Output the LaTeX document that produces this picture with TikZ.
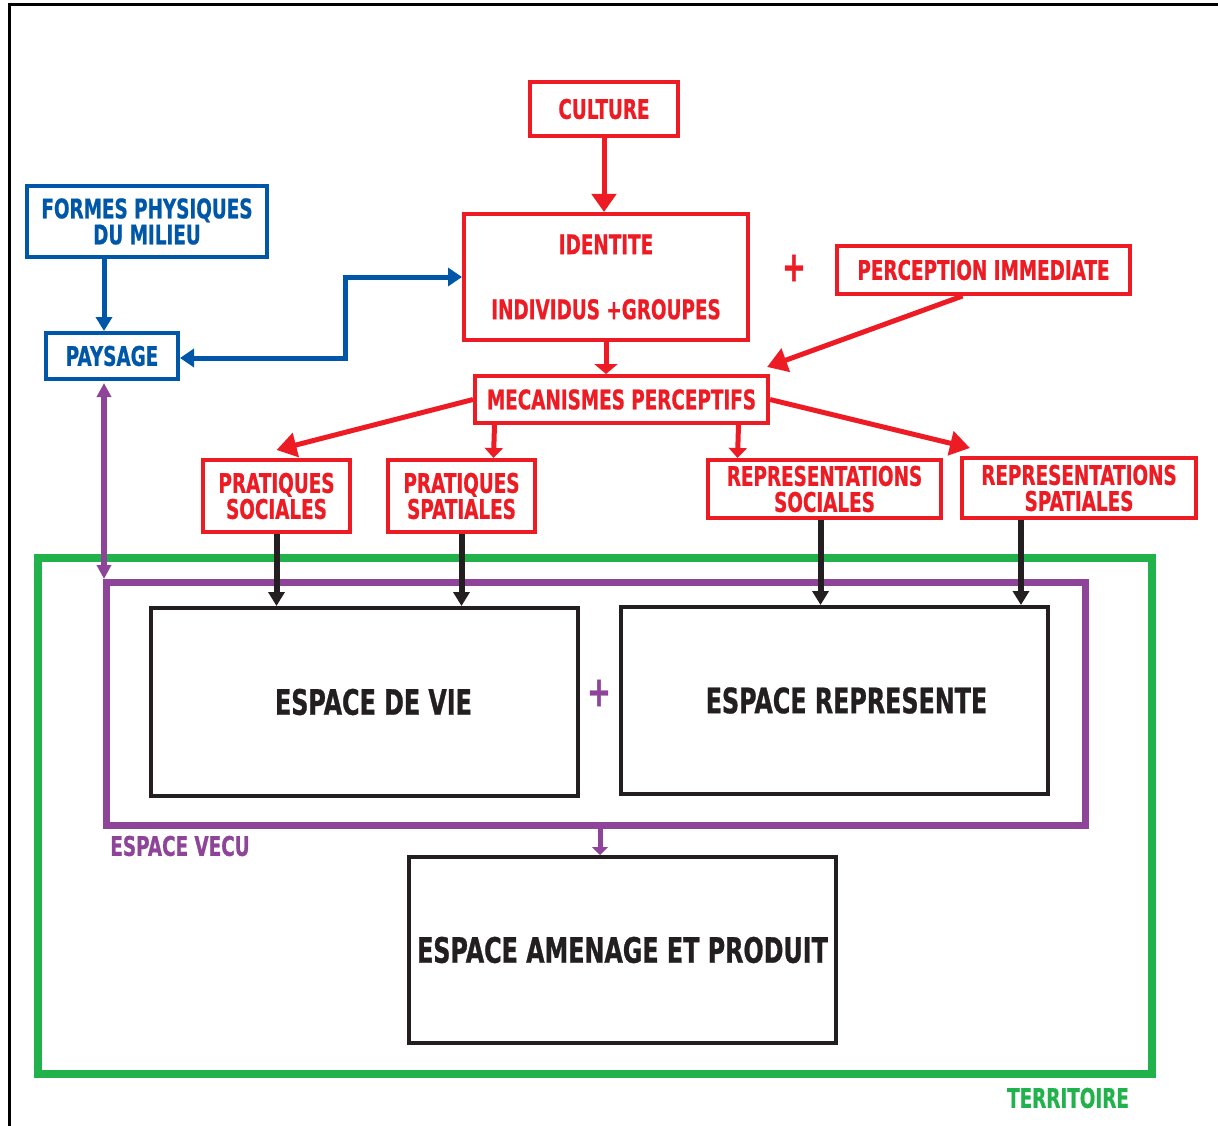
\documentclass[tikz,border=0pt]{standalone}
\usepackage{fontspec}
\usepackage{xcolor}
\usetikzlibrary{arrows.meta}
\newfontfamily\schemafont{DejaVu Sans Bold}[FakeStretch=0.68, FakeBold=0.8]

\definecolor{rouge}{RGB}{237,28,36}
\definecolor{bleu}{RGB}{0,87,168}
\definecolor{violet}{RGB}{142,68,152}
\definecolor{vert}{RGB}{34,178,76}
\definecolor{noir}{RGB}{35,31,32}

\tikzset{
  boite/.style={draw, rectangle, inner sep=0pt, align=center},
  redbox/.style={boite, rouge, line width=4pt, text=rouge, font=\schemafont\fontsize{27}{26}\selectfont},
  bluebox/.style={boite, bleu, line width=4pt, text=bleu, font=\schemafont\fontsize{27}{26}\selectfont},
  bigbox/.style={boite, noir, line width=4pt, text=noir, minimum width=427, font=\schemafont\fontsize{35}{35}\selectfont},
  redarrow/.style={rouge, line width=5pt, -{Triangle[width=24pt,length=18pt]}},
  blackarrow/.style={noir, line width=6pt, -{Triangle[width=16pt,length=14pt]}},
  bluearrow/.style={bleu, line width=5pt},
  tag/.style={font=\schemafont\fontsize{27}{27}\selectfont},
  plus/.style={font=\schemafont\fontsize{42}{42}\selectfont}
}

\begin{document}
\begin{tikzpicture}[x=1pt, y=-1pt]
\useasboundingbox (0,0) rectangle (1218,1126);
\draw[line width=3pt, black] (1218,5) -- (9,5) -- (9,1126);

% territoire et espace vecu
\node[draw, vert, line width=8pt, minimum width=1114, minimum height=516] (territoire) at (595,816) {};
\node[draw, violet, line width=7pt, minimum width=979, minimum height=243] (vecu) at (596,704) {};
\node[tag, text=vert] (territoiretxt) at (1068,1098) {TERRITOIRE};
\node[tag, text=violet] (vecutxt) at (180,846) {ESPACE VECU};

% cadres rouges
\node[redbox, minimum width=148, minimum height=54] (culture) at (604,109) {CULTURE};
\node[redbox, minimum width=284, minimum height=126] (identite) at (606,277) {IDENTITE\\[39pt]INDIVIDUS +GROUPES};
\node[redbox, minimum width=293, minimum height=48] (perception) at (983.5,270) {PERCEPTION IMMEDIATE};
\node[redbox, minimum width=293, minimum height=47] (meca) at (621.5,399.5) {MECANISMES PERCEPTIFS};
\node[redbox, minimum width=147, minimum height=72] (pratsoc) at (276.5,496) {PRATIQUES\\SOCIALES};
\node[redbox, minimum width=147, minimum height=72] (pratspa) at (461.5,496) {PRATIQUES\\SPATIALES};
\node[redbox, minimum width=233, minimum height=58] (repsoc) at (824.5,489) {REPRESENTATIONS\\SOCIALES};
\node[redbox, minimum width=234, minimum height=60] (repspa) at (1079,488) {REPRESENTATIONS\\SPATIALES};
\node[plus, text=rouge] (plusrouge) at (794,268) {+};

% cadres bleus
\node[bluebox, minimum width=240, minimum height=71] (formes) at (147,221.5) {FORMES PHYSIQUES\\DU MILIEU};
\node[bluebox, minimum width=132, minimum height=46] (paysage) at (112,356) {PAYSAGE};

% espaces
\node[bigbox, minimum height=188] (vie) at (364.5,702) {\hspace*{18pt}ESPACE DE VIE};
\node[bigbox, minimum height=187] (represente) at (834.5,700.5) {\hspace*{24pt}ESPACE REPRESENTE};
\node[bigbox, minimum height=186] (amenage) at (622.5,950) {ESPACE AMENAGE ET PRODUIT};
\node[plus, text=violet] (plusviolet) at (599,693) {+};

% fleches rouges
\draw[redarrow] (culture.south) -- (culture.south |- identite.north);
\draw[redarrow, -{Triangle[width=23pt,length=10pt]}] (identite.south) -- (identite.south |- meca.north);
\draw[redarrow, -{Triangle[width=24pt,length=20pt]}] ([xshift=-21pt]perception.south) -- ([xshift=-3pt,yshift=7pt]meca.north east);
\draw[redarrow, -{Triangle[width=24pt,length=20pt]}] (meca.west) -- ([yshift=8pt]pratsoc.north);
\draw[redarrow, -{Triangle[width=24pt,length=20pt]}] (meca.east) -- ([xshift=10pt,yshift=8pt]repspa.north west);
\draw[redarrow, -{Triangle[width=18pt,length=10pt]}] ([xshift=-127pt]meca.south) -- ([xshift=32pt]pratspa.north);
\draw[redarrow, -{Triangle[width=18pt,length=10pt]}] ([xshift=117pt]meca.south) -- ([xshift=-87pt]repsoc.north);

% fleches noires
\draw[blackarrow] (pratsoc.south) -- (pratsoc.south |- vie.north);
\draw[blackarrow] (pratspa.south) -- (pratspa.south |- vie.north);
\draw[blackarrow] ([xshift=-4pt]repsoc.south) -- ([xshift=-4pt]repsoc.south |- represente.north);
\draw[blackarrow] ([xshift=-58pt]repspa.south) -- ([xshift=-58pt]repspa.south |- represente.north);

% fleches bleues
\draw[bluearrow, -{Triangle[width=16pt,length=14pt]}] ([xshift=-43pt]formes.south) -- ([xshift=-43pt]formes.south |- paysage.north);
\draw[bluearrow, {Triangle[width=18pt,length=14pt]}-{Triangle[width=18pt,length=14pt]}, line join=miter]
  ([yshift=-2pt]paysage.east) -- (345,358) |- (identite.west);

% fleches violettes
\draw[violet, line width=6pt, {Triangle[width=14pt,length=14pt]}-{Triangle[width=14pt,length=14pt]}]
  ([xshift=-8pt,yshift=-2pt]paysage.south) -- ([xshift=-8pt]paysage.south |- vecu.north);
\draw[violet, line width=5pt, -{Triangle[width=16pt,length=8pt]}] (600,0 |- vecu.south) -- (600,0 |- amenage.north);
\end{tikzpicture}
\end{document}
